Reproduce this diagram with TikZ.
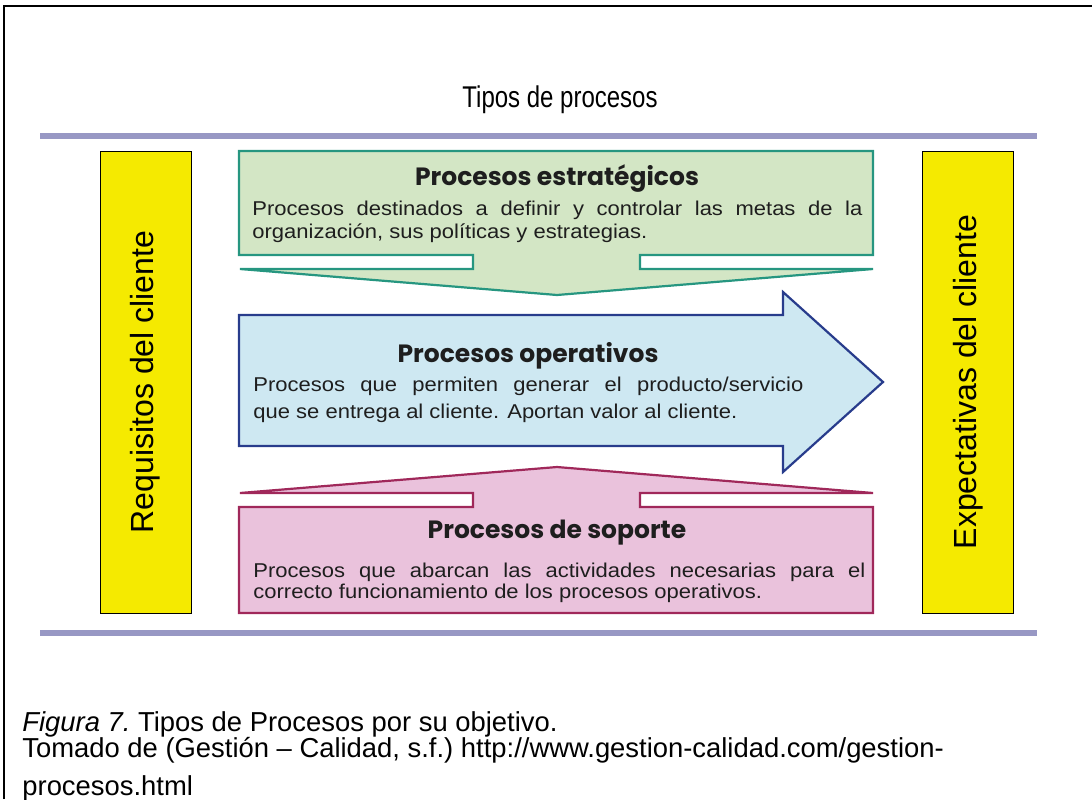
\documentclass[tikz,border=0pt]{standalone}
\usepackage{fontspec}
\setmainfont{Liberation Sans}
\newfontfamily\headfont{Poppins}
\newfontfamily\bodyfont[FakeStretch=1.1]{Liberation Sans}
\newfontfamily\titlefont[FakeStretch=0.8]{Liberation Sans}
\definecolor{sideyellow}{RGB}{245,234,0}
\definecolor{greenfill}{RGB}{211,230,197}
\definecolor{greenline}{RGB}{38,150,128}
\definecolor{bluefill}{RGB}{206,232,242}
\definecolor{blueline}{RGB}{40,60,140}
\definecolor{pinkfill}{RGB}{234,194,220}
\definecolor{pinkline}{RGB}{160,40,90}
\definecolor{bandcol}{RGB}{152,152,196}
\definecolor{inkcol}{RGB}{30,30,30}
\tikzset{
    every node/.style={align=center,},
    sidebar/.style={draw,fill=sideyellow,rotate=90,minimum width=231pt,minimum height=45.5pt,inner sep=0pt,font=\fontsize{16}{18}\selectfont},
    procbox/.style={line width=1.1pt,line join=miter},
    head/.style={font=\headfont\bfseries\fontsize{12.5}{14}\selectfont,text=inkcol,inner sep=0pt,anchor=base},
    body/.style={font=\bodyfont\fontsize{10}{#1}\selectfont,text=inkcol,align=justify,inner sep=0pt,anchor=base west},
    band/.style={line width=2.6pt,draw=bandcol},
    caption/.style={font=\frenchspacing\fontsize{13.7}{16}\selectfont,inner sep=0pt,anchor=base west},
}

\begin{document}
\begin{tikzpicture}[x=0.5pt,y=-0.5pt]
                \useasboundingbox (0,0) rectangle (1092,799);
                \draw[line width=1pt] (4,799) -- (4,6) -- (1092,6);

                \node[font=\titlefont\fontsize{15}{17}\selectfont,anchor=base] (title) at (560,107) {Tipos de procesos};
                \draw[band] (40,136) -- (1037,136);
                \draw[band] (40,633) -- (1037,633);

                \node[sidebar] (req) at (145.5,382) {Requisitos del cliente};
                \node[sidebar] (exp) at (968,382) {Expectativas del cliente};

                % estrategicos
                \draw[procbox,draw=greenline,fill=greenfill] (239,255) -- (239,151) -- (873,151) -- (873,255) -- (640,255) -- (640,269) -- (873,269) -- (557,295) -- (240,269) -- (473,269) -- (473,255) -- cycle;
                \node[head] (strat_head) at (557,185) {Procesos estratégicos};
                \node[body=11.5,text width=305pt] (strat_text) at (252,215) {Procesos destinados a definir y controlar las metas de la\linebreak organización, sus políticas y estrategias.};

                % operativos
                \draw[procbox,draw=blueline,fill=bluefill] (239,315) -- (783,315) -- (783,292) -- (883,382) -- (783,472) -- (783,446) -- (239,446) -- cycle;
                \node[head] (oper_head) at (528,362) {Procesos operativos};
                \node[body=13.5,text width=275pt] (oper_text) at (253,391) {Procesos que permiten generar el producto/servicio\linebreak que se entrega al cliente. Aportan valor al cliente.};

                % soporte
                \draw[procbox,draw=pinkline,fill=pinkfill] (239,507) -- (239,613) -- (873,613) -- (873,507) -- (640,507) -- (640,493) -- (873,493) -- (557,467) -- (240,493) -- (473,493) -- (473,507) -- cycle;
                \node[head] (sup_head) at (557,538) {Procesos de soporte};
                \node[body=10.5,text width=306pt] (sup_text) at (253,577) {Procesos que abarcan las actividades necesarias para el\linebreak correcto funcionamiento de los procesos operativos.};

                \node[caption] (fig) at (22,731) {\textit{Figura 7.} Tipos de Procesos por su objetivo.};
                \node[caption] (src) at (22,757) {Tomado de (Gestión – Calidad, s.f.) http://www.gestion-calidad.com/gestion-};
                \node[caption] (src_end) at (22,795) {procesos.html};
            \end{tikzpicture}
\end{document}
